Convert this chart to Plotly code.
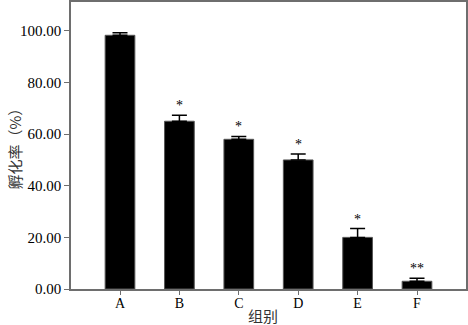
import plotly.graph_objects as go

# Hatching rate (%) per group, with upper error (SD) and significance marks
groups = ["A", "B", "C", "D", "E", "F"]
rates = [98.3, 65.0, 58.0, 50.0, 20.0, 3.0]
errors = [1.0, 2.3, 1.1, 2.3, 3.4, 1.2]
marks = ["", "*", "*", "*", "*", "**"]
y_ticks = [0, 20, 40, 60, 80, 100]

serif = "Liberation Serif, Times New Roman, serif"
cjk = "Noto Sans CJK SC, sans-serif"
axis_color = "#6e6e6e"

fig = go.Figure()
fig.add_trace(go.Bar(
    x=groups, y=rates, width=0.5,
    marker=dict(color="black", line=dict(color="#555555", width=1)),
    error_y=dict(type="data", symmetric=False, array=errors,
                 arrayminus=[0] * len(errors), color="black",
                 thickness=1.5, width=7.5),
    showlegend=False,
))

# significance markers just above each error bar
for g, r, e, m in zip(groups, rates, errors, marks):
    if m:
        fig.add_annotation(x=g, y=r + e, text=m, showarrow=False,
                           yanchor="bottom", yshift=0,
                           font=dict(family=serif, size=14, color="black"))

fig.update_layout(
    width=468, height=325,
    margin=dict(l=71, r=2, t=2, b=36),
    paper_bgcolor="white", plot_bgcolor="white",
)
fig.update_xaxes(
    range=[-0.825, 5.825], showgrid=False, automargin=False,
    showline=True, linecolor=axis_color, linewidth=1.5, mirror=True,
    ticks="outside", ticklen=4, tickcolor=axis_color,
    ticklabelstandoff=-4,
    tickfont=dict(family=serif, size=14, color="black"),
)
fig.update_yaxes(
    range=[0, 111.2], showgrid=False, zeroline=False, automargin=False,
    showline=True, linecolor=axis_color, linewidth=1.5, mirror=True,
    ticks="outside", ticklen=5, tickcolor=axis_color,
    tickvals=y_ticks, ticktext=[f"{v:.2f}" for v in y_ticks],
    tickfont=dict(family=serif, size=15, color="black"),
)

# axis titles
fig.add_annotation(text="组别", xref="paper", yref="paper", x=0.485, y=0,
                   yanchor="middle", yshift=-26, showarrow=False, borderpad=0,
                   font=dict(family=cjk, size=15, color="#333333"))
fig.add_annotation(text="孵化率（%）", xref="paper", yref="paper", x=0, y=0.5,
                   xanchor="center", xshift=-57, textangle=-90, showarrow=False,
                   font=dict(family=cjk, size=15, color="#333333"))

fig.write_html("out.html")
